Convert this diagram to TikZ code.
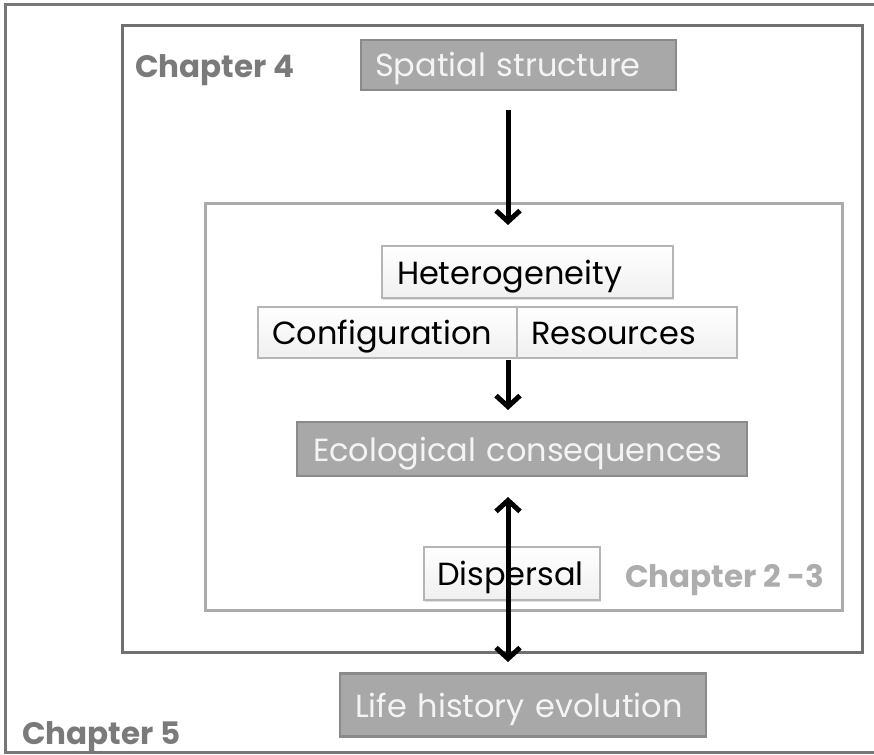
\documentclass[tikz,border=0pt]{standalone}
\usepackage{fontspec}
\setmainfont{Poppins}
\usetikzlibrary{arrows.meta,shadows}
\definecolor{outeredge}{HTML}{777777}
\definecolor{chfouredge}{HTML}{707070}
\definecolor{chtwoedge}{HTML}{ABABAB}
\definecolor{boxfill}{HTML}{A8A8A8}
\definecolor{boxedge}{HTML}{8A8A8A}
\definecolor{boxtext}{HTML}{F4F4F4}
\definecolor{wedge}{HTML}{B5B5B5}
\definecolor{labelfour}{HTML}{7A7A7A}
\definecolor{labeltwo}{HTML}{ADADAD}
\newcommand{\mainfs}{\fontsize{32}{36}\selectfont}
\newcommand{\chapfs}{\fontsize{31}{34}\selectfont\bfseries}
\begin{document}
\begin{tikzpicture}[x=1pt,y=-1pt,
  gbox/.style={draw=boxedge, fill=boxfill, line width=2.5pt, text=boxtext, font=\mainfs, align=left, inner ysep=0pt, text height=30pt, text depth=6pt},
  wbox/.style={draw=wedge, top color=white, bottom color=black!6, line width=1.5pt, text=black, font=\mainfs, align=left, inner ysep=0pt, text height=30pt, text depth=6pt},
  shadowed/.style={drop shadow={shadow xshift=1pt, shadow yshift=-2pt, opacity=0.25}},
  chapbox/.style={line width=3pt},
  arr/.style={line width=5pt, -{Straight Barb[length=11pt,width=24pt,line width=5pt]}},
  darr/.style={line width=5pt, {Straight Barb[length=11pt,width=24pt,line width=5pt]}-{Straight Barb[length=11pt,width=24pt,line width=5pt]}}
]
\clip (0,0) rectangle (874,754);
\fill[white] (0,0) rectangle (874,754);
% chapter boxes
\draw[chapbox, draw=outeredge] (5,5) rectangle (890,752);
\draw[chapbox, draw=chfouredge] (122,26) rectangle (862,652);
\draw[chapbox, draw=chtwoedge] (205,203) rectangle (842,610);
% chapter labels
\node[anchor=base west, text=labelfour, font=\chapfs, inner sep=0pt] (ch4) at (135,78) {Chapter 4};
\node[anchor=base west, text=labelfour, font=\chapfs, inner sep=0pt] (ch5) at (22,744) {Chapter 5};
\node[anchor=base west, text=labeltwo, font=\chapfs, inner sep=0pt] (ch23) at (625,587) {Chapter 2 -3};
% boxes
\node[gbox, minimum width=315pt, minimum height=50pt, text width=287pt, inner xsep=14pt] (sp) at (518.5,65) {Spatial structure};
\node[wbox, shadowed, minimum width=291pt, minimum height=52pt, text width=261pt, inner xsep=15pt] (het) at (527.5,272) {Heterogeneity};
\node[wbox, minimum width=259pt, minimum height=51pt, text width=231pt, inner xsep=14pt] (conf) at (387.5,332.5) {Configuration};
\node[wbox, minimum width=220pt, minimum height=51pt, text width=192pt, inner xsep=14pt] (res) at (627,332.5) {Resources};
\node[gbox, minimum width=450pt, minimum height=54pt, text width=418pt, inner xsep=16pt] (eco) at (522,449) {Ecological consequences};
\node[wbox, shadowed, minimum width=176pt, minimum height=53pt, text width=150pt, inner xsep=13pt] (disp) at (512,573.5) {Dispersal};
\node[gbox, minimum width=366pt, minimum height=63pt, text width=336pt, inner xsep=15pt] (life) at (523,705) {Life history evolution};
% connector end points
\coordinate (a1s) at (508,110);
\coordinate (a1e) at (508,225);
\coordinate (a2s) at (508,360);
\coordinate (a2e) at (508,410);
\coordinate (a3s) at (508,497);
\coordinate (a3e) at (508,662);
% connectors
\draw[arr] (a1s) -- (a1e);
\draw[arr] (a2s) -- (a2e);
\draw[darr] (a3e) -- (a3s);
\end{tikzpicture}
\end{document}
